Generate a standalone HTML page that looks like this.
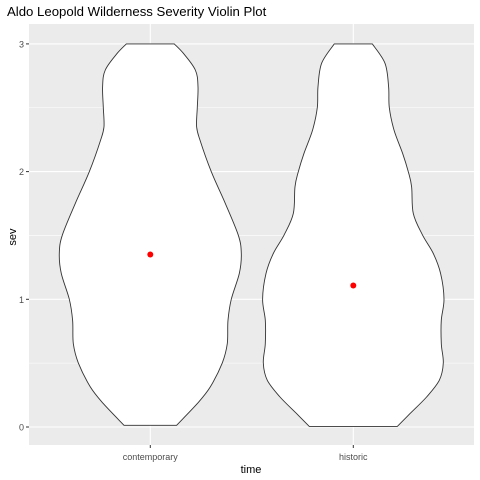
<!DOCTYPE html>
<html><head><meta charset="utf-8"><style>
body{margin:0;background:#fff}
svg{display:block;font-family:"Liberation Sans",sans-serif}
</style></head><body>
<svg id="chart" width="480" height="480" viewBox="0 0 480 480">
<rect x="0" y="0" width="480" height="480" fill="#fff"/>
<text x="7" y="16" font-size="13.2" fill="#000">Aldo Leopold Wilderness Severity Violin Plot</text>
<rect x="29" y="24" width="445" height="421" fill="#ebebeb"/>
<g id="grid"></g>
<g id="violins"></g>
<g id="axes"></g>
<text transform="translate(16,237) rotate(-90)" font-size="11" fill="#000" text-anchor="middle">sev</text>
<text x="251" y="473" font-size="11" fill="#000" text-anchor="middle">time</text>
</svg>
<script>
const categories = ["contemporary", "historic"];
const yTicks = [0, 1, 2, 3];
const contSev = [3.0,2.927,2.796,2.665,2.501,2.352,2.247,1.999,1.751,1.502,1.359,1.202,1.001,0.836,0.653,0.502,0.314,0.183,0.013];
const contDens = [0.264,0.363,0.495,0.524,0.516,0.509,0.546,0.670,0.824,0.967,1.0,0.978,0.89,0.854,0.846,0.791,0.659,0.516,0.289];
const histSev = [3.0,2.848,2.665,2.501,2.326,2.143,1.999,1.881,1.672,1.502,1.359,1.202,1.001,0.836,0.653,0.502,0.366,0.235,0.105,0.005];
const histDens = [0.209,0.348,0.388,0.396,0.447,0.542,0.604,0.641,0.659,0.762,0.879,0.959,0.997,0.967,0.967,0.989,0.945,0.805,0.623,0.484];
const means = [1.351, 1.108];

const NS = "http://www.w3.org/2000/svg";
const panel = {l:29, r:474, t:24, b:445};
function yScale(v){ return 427 - v * 127.7; }
function xScale(i){ return 150.3 + i * 203; }
const maxHalf = 91;
function mk(tag, attrs, parent){ const e=document.createElementNS(NS,tag); for(const k in attrs) e.setAttribute(k,attrs[k]); parent.appendChild(e); return e; }

function smooth(pts){
  let d = 'M' + pts[0][0].toFixed(1) + ',' + pts[0][1].toFixed(1);
  for (let i = 0; i < pts.length - 1; i++) {
    const p0 = pts[Math.max(i-1,0)], p1 = pts[i], p2 = pts[i+1], p3 = pts[Math.min(i+2,pts.length-1)];
    const c1 = [p1[0] + (p2[0]-p0[0])/6, p1[1] + (p2[1]-p0[1])/6];
    const c2 = [p2[0] - (p3[0]-p1[0])/6, p2[1] - (p3[1]-p1[1])/6];
    d += ' C' + c1.map(n=>n.toFixed(1)).join(',') + ' ' + c2.map(n=>n.toFixed(1)).join(',') + ' ' + p2.map(n=>n.toFixed(1)).join(',');
  }
  return d;
}

const grid = document.getElementById('grid');
for (let v = 0; v <= 3; v += 0.5) {
  const major = Number.isInteger(v);
  const l = mk('line',{x1:panel.l,x2:panel.r,y1:yScale(v),y2:yScale(v),stroke:'#fff','stroke-width':major?1.1:0.55},grid);
  
  
}
categories.forEach((c,i)=>{
  const l = mk('line',{x1:xScale(i),x2:xScale(i),y1:panel.t,y2:panel.b,stroke:'#fff','stroke-width':1.1},grid);
  
  
});

const vg = document.getElementById('violins');
const series = [[contSev, contDens], [histSev, histDens]];
series.forEach((s,i)=>{
  const [sev, dens] = s;
  const cx = xScale(i);
  const left = sev.map((v,j)=>[cx - dens[j]*maxHalf, yScale(v)]);
  const right = sev.map((v,j)=>[cx + dens[j]*maxHalf, yScale(v)]).reverse();
  const r0 = right[0];
  const d = smooth(left) + ' L' + r0[0].toFixed(1) + ',' + r0[1].toFixed(1) + smooth(right).replace(/^M[^C]*/, ' ') + ' Z';
  const p = mk('path',{d:d,fill:'#fff',stroke:'#333','stroke-width':0.9,'stroke-linejoin':'round'},vg);
  
  
  const m = mk('circle',{cx:cx,cy:yScale(means[i]),r:3,fill:'#ff0000'},vg);
  
  
});

const ax = document.getElementById('axes');
yTicks.forEach(v=>{
  const t = mk('line',{x1:26,x2:29,y1:yScale(v),y2:yScale(v),stroke:'#333','stroke-width':1},ax);
  
  
  const lb = mk('text',{x:24,y:yScale(v)+3.5,'font-size':9,fill:'#4d4d4d','text-anchor':'end'},ax);
  lb.textContent = v;
  
  
});
categories.forEach((c,i)=>{
  const t = mk('line',{x1:xScale(i),x2:xScale(i),y1:panel.b,y2:panel.b+3,stroke:'#333','stroke-width':1},ax);
  
  
  const lb = mk('text',{x:xScale(i),y:460,'font-size':9,fill:'#4d4d4d','text-anchor':'middle'},ax);
  lb.textContent = c;
  
  
});
</script>
</body></html>
